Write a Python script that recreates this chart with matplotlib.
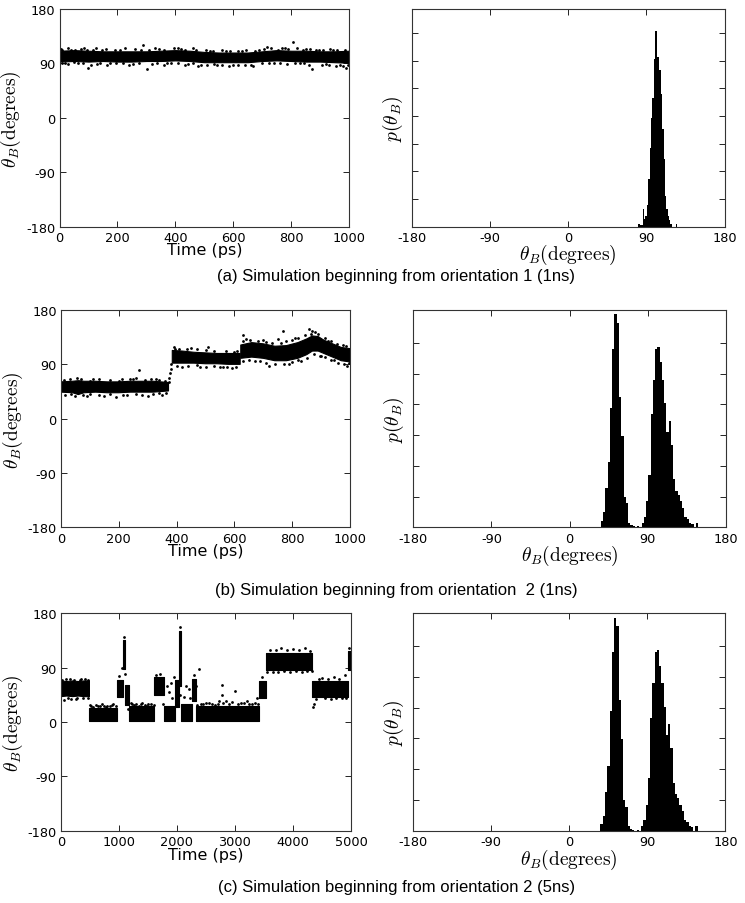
import numpy as np
import matplotlib
matplotlib.use('Agg')
import matplotlib.pyplot as plt

plt.rcParams['font.family'] = 'DejaVu Sans'
plt.rcParams['mathtext.fontset'] = 'cm'
plt.rcParams['axes.unicode_minus'] = False

nan = np.nan

# ---- theta_B(t) traces: dense band (lo/hi envelope, nan = break) + scattered points
a_t = [0, 50, 100, 150, 200, 250, 300, 350, 400, 450, 500, 550, 600, 650, 700, 750, 800, 850, 900, 950, 1000]
a_lo = [93, 94, 93, 94, 93, 93, 94, 94, 95, 94, 92, 92, 92, 92, 94, 95, 94, 93, 93, 92, 91]
a_hi = [111, 112, 111, 110, 110, 110, 110, 111, 112, 111, 109, 108, 108, 108, 110, 112, 111, 111, 110, 110, 111]
a_pts = [(5, 114), (20, 90), (40, 113), (65, 91), (85, 115), (100, 83), (115, 113), (130, 89), (160, 114),
         (175, 90), (210, 113), (240, 88), (260, 114), (290, 120), (301, 81), (320, 89), (345, 114), (370, 90),
         (395, 116), (420, 114), (445, 89), (470, 112), (490, 88), (520, 110), (545, 87), (575, 111), (600, 88),
         (630, 110), (660, 87), (690, 113), (715, 117), (740, 90), (770, 115), (790, 114), (807, 126), (830, 90),
         (850, 114), (872, 81), (895, 113), (920, 89), (945, 112), (970, 87), (991, 83), (998, 88),
         (10, 112), (30, 115), (55, 113), (75, 114), (95, 112), (125, 115), (145, 112), (190, 113), (225, 115),
         (280, 113), (310, 112), (330, 115), (360, 113), (410, 116), (435, 113), (460, 115), (505, 112),
         (530, 111), (560, 113), (590, 110), (615, 111), (645, 112), (675, 111), (705, 114), (730, 115),
         (755, 113), (780, 116), (820, 115), (840, 113), (865, 114), (885, 112), (910, 113), (935, 114),
         (960, 112), (985, 113),
         (10, 91), (30, 89), (50, 92), (80, 90), (110, 88), (140, 91), (165, 87), (195, 90), (220, 91),
         (255, 89), (275, 91), (335, 90), (360, 88), (385, 91), (410, 90), (435, 88), (460, 90), (480, 86),
         (510, 87), (535, 89), (560, 88), (585, 86), (615, 87), (640, 88), (670, 86), (700, 90), (725, 91),
         (760, 90), (785, 89), (815, 91), (845, 90), (860, 88), (905, 87), (930, 88), (955, 86), (980, 85)]

b_t = [0, 40, 60, 80, 120, 160, 200, 240, 280, 320, 372, nan,
       385, 420, 460, 500, 540, 580, 620, nan,
       622, 660, 700, 740, 780, 820, 850, 870, 890, 910, 940, 970, 1000]
b_lo = [44, 43, 40, 43, 44, 43, 43, 44, 44, 44, 46, nan,
        92, 92, 92, 91, 91, 90, 90, nan,
        100, 102, 100, 96, 96, 100, 106, 112, 112, 108, 102, 96, 94]
b_hi = [61, 62, 63, 62, 62, 61, 61, 62, 62, 62, 60, nan,
        113, 112, 110, 109, 108, 108, 108, nan,
        122, 126, 124, 120, 121, 126, 132, 137, 136, 130, 124, 118, 116]
b_pts = [(50, 37), (55, 68), (90, 38), (110, 65), (150, 37), (190, 36), (210, 65), (230, 40), (250, 66),
         (271, 81), (300, 38), (330, 66), (350, 40), (372, 60), (375, 68), (378, 75), (380, 82), (382, 90),
         (395, 116), (420, 85), (450, 117), (480, 86), (510, 118), (550, 85), (590, 84), (610, 112), (630, 138),
         (640, 132), (670, 96), (700, 130), (720, 88), (750, 132), (769, 146), (790, 91), (810, 134), (830, 96),
         (858, 148), (868, 145), (880, 143), (900, 104), (925, 128), (945, 97), (975, 122), (990, 88), (998, 92),
         (10, 64), (30, 66), (70, 65), (100, 63), (130, 66), (170, 64), (200, 63), (240, 65), (260, 67),
         (290, 64), (310, 65), (340, 64), (360, 63),
         (15, 40), (35, 41), (75, 39), (100, 41), (130, 40), (170, 41), (215, 39), (260, 41), (280, 40),
         (320, 41), (340, 42), (365, 43),
         (390, 118), (410, 115), (435, 116), (470, 115), (500, 113), (530, 112), (570, 112), (600, 111),
         (400, 88), (440, 87), (470, 89), (500, 86), (530, 87), (560, 86), (575, 85), (605, 85),
         (630, 128), (655, 130), (680, 128), (710, 127), (730, 125), (760, 126), (780, 128), (800, 131),
         (820, 133), (845, 138), (865, 141), (890, 140), (915, 134), (935, 128), (955, 124), (985, 120),
         (630, 96), (650, 98), (690, 95), (710, 93), (740, 90), (770, 91), (800, 94), (820, 97), (850, 101),
         (875, 107), (895, 104), (915, 102), (935, 97), (960, 92), (980, 90)]

c_t = [0, 100, 200, 300, 400, 490, nan, 490, 700, 970, nan, 970, 1070, nan, 1075, 1100, nan,
       1100, 1180, nan, 1180, 1610, nan, 1610, 1770, nan, 1770, 1970, nan, 1970, 2030, nan,
       2030, 2070, nan, 2070, 2260, nan, 2260, 2330, nan, 2330, 3420, nan, 3420, 3540, nan,
       3540, 4330, nan, 4330, 4950, nan, 4950, 5000]
c_lo = [42, 43, 42, 43, 42, 42, nan, 2, 2, 2, nan, 42, 42, nan, 88, 88, nan,
        28, 28, nan, 2, 2, nan, 45, 45, nan, 2, 2, nan, 25, 25, nan,
        60, 60, nan, 2, 2, nan, 35, 35, nan, 2, 2, nan, 40, 40, nan,
        86, 86, nan, 42, 42, nan, 86, 86]
c_hi = [68, 67, 68, 67, 68, 68, nan, 24, 24, 24, nan, 70, 70, nan, 135, 135, nan,
        62, 62, nan, 26, 26, nan, 74, 74, nan, 26, 26, nan, 70, 70, nan,
        150, 150, nan, 30, 30, nan, 72, 72, nan, 26, 26, nan, 68, 68, nan,
        115, 115, nan, 68, 68, nan, 118, 118]
c_pts = [(50, 36), (150, 72), (250, 38), (350, 72), (460, 70), (500, 28), (600, 28), (700, 30), (800, 27),
         (900, 29), (1005, 76), (1060, 90), (1085, 140), (1095, 80), (1120, 30), (1150, 22), (1200, 31),
         (1300, 30), (1400, 32), (1500, 30), (1640, 78), (1700, 80), (1760, 30), (1820, 60), (1860, 50),
         (1900, 65), (1920, 40), (1950, 75), (2010, 30), (2050, 158), (2060, 45), (2120, 42), (2160, 60),
         (2200, 55), (2230, 40), (2290, 78), (2330, 60), (2385, 88), (2450, 30), (2560, 32), (2650, 28),
         (2770, 62), (2770, 45), (2850, 35), (3000, 52), (3100, 32), (3200, 35), (3300, 30), (3380, 40),
         (3460, 75), (3500, 60), (3600, 120), (3800, 122), (4000, 121), (4200, 123), (4300, 118), (4340, 25),
         (4360, 30), (4500, 73), (4700, 75), (4900, 78), (4960, 122),
         (20, 70), (80, 71), (120, 40), (180, 38), (220, 70), (280, 40), (320, 69), (380, 39), (420, 71),
         (470, 40), (520, 26), (560, 25), (640, 27), (680, 26), (740, 27), (780, 25), (840, 26), (880, 28),
         (940, 26), (1220, 29), (1260, 28), (1340, 27), (1380, 29), (1440, 28), (1480, 27), (1560, 29),
         (1600, 28), (2350, 28), (2420, 29), (2500, 31), (2600, 29), (2700, 30), (2720, 34), (2800, 31),
         (2900, 30), (2950, 33), (3050, 29), (3150, 31), (3250, 30), (3350, 32), (3400, 29),
         (3560, 82), (3650, 83), (3700, 120), (3750, 82), (3850, 84), (3900, 119), (3950, 83), (4050, 84),
         (4100, 120), (4150, 82), (4250, 84), (4320, 85),
         (4400, 38), (4450, 72), (4550, 39), (4600, 72), (4650, 38), (4750, 40), (4800, 71), (4850, 39),
         (4920, 40)]

# ---- histograms p(theta_B)
a_bin0, a_binw = 81.0, 1.6
a_hist = [0.08, 0.04, 0.04, 0.63, 0.28, 0.39, 0.79, 1.73, 2.83, 3.94, 4.64, 6.06, 7.08, 6.14,
          6.14, 5.67, 4.80, 3.54, 2.44, 1.10, 0.63, 0.39, 0.24, 0.08, 0, 0, 0, 0.08]
b_bin0, b_binw = 36.0, 2.6
b_hist = [0.21, 0.49, 1.27, 2.12, 3.89, 5.80, 6.93, 6.65, 4.24, 2.97, 0.99, 0.78, 0.14, 0.07,
          0.04, 0, 0.04, 0, 0.14, 0.35, 0.85, 1.70, 3.68, 4.81, 5.80, 5.87, 5.37, 4.81, 4.03, 3.11,
          3.46, 2.69, 1.56, 1.20, 1.06, 0.85, 0.64, 0.35, 0.28, 0.14, 0.11, 0, 0.14, 0]

captions = ['(a) Simulation beginning from orientation 1 (1ns)',
            '(b) Simulation beginning from orientation  2 (1ns)',
            '(c) Simulation beginning from orientation 2 (5ns)']

fig = plt.figure(figsize=(7.45, 9.04), dpi=100)

rows = [
    dict(left=[0.0799, 0.7483, 0.3886, 0.2406], right=[0.5526, 0.7483, 0.4199, 0.2406],
         t=a_t, lo=a_lo, hi=a_hi, pts=a_pts, tmax=1000, tstep=200,
         hist=a_hist, bin0=a_bin0, binw=a_binw, ytop=7.87, nticks=7, cap_y=1 - 277 / 904),
    dict(left=[0.0819, 0.4154, 0.3879, 0.2406], right=[0.5548, 0.4154, 0.4197, 0.2406],
         t=b_t, lo=b_lo, hi=b_hi, pts=b_pts, tmax=1000, tstep=200,
         hist=b_hist, bin0=b_bin0, binw=b_binw, ytop=7.07, nticks=6, cap_y=1 - 591 / 904),
    dict(left=[0.0819, 0.0799, 0.3892, 0.2406], right=[0.5544, 0.0799, 0.4194, 0.2406],
         t=c_t, lo=c_lo, hi=c_hi, pts=c_pts, tmax=5000, tstep=1000,
         hist=b_hist, bin0=b_bin0, binw=b_binw, ytop=7.07, nticks=6, cap_y=1 - 888 / 904),
]

for r, cap in zip(rows, captions):
    ax = fig.add_axes(r['left'])
    ax.fill_between(r['t'], r['lo'], r['hi'], color='black', linewidth=0.8, edgecolor='black')
    px, py = zip(*r['pts'])
    ax.plot(px, py, 'o', color='black', ms=2.0, mec='none')
    ax.set_xlim(0, r['tmax'])
    ax.set_ylim(-180, 180)
    ax.set_xticks(range(0, r['tmax'] + 1, r['tstep']))
    ax.set_yticks([-180, -90, 0, 90, 180])
    ax.set_xlabel('Time (ps)', fontsize=11.5, labelpad=-1)
    ax.set_ylabel(r'$\theta_B(\mathrm{degrees})$', fontsize=14, labelpad=2)

    hx = fig.add_axes(r['right'])
    edges = [r['bin0'] + i * r['binw'] for i in range(len(r['hist']))]
    hx.bar(edges, r['hist'], width=r['binw'], align='edge', color='black', linewidth=0)
    hx.set_xlim(-180, 180)
    hx.set_ylim(0, r['ytop'])
    hx.set_xticks([-180, -90, 0, 90, 180])
    hx.set_yticks(range(1, r['nticks'] + 1))
    hx.set_yticklabels([])
    hx.set_xlabel(r'$\theta_B(\mathrm{degrees})$', fontsize=14, labelpad=-1)
    hx.set_ylabel(r'$p(\theta_B)$', fontsize=14, labelpad=2)

    for a in (ax, hx):
        a.tick_params(direction='in', top=True, right=True, length=4, width=0.6, labelsize=9.3, pad=3)
        for s in a.spines.values():
            s.set_linewidth(0.8)
            s.set_color('#333333')

    fig.text(0.532, r['cap_y'], cap, ha='center', va='center', fontsize=12, family='Liberation Sans')

fig.savefig('out.png', dpi=100)
